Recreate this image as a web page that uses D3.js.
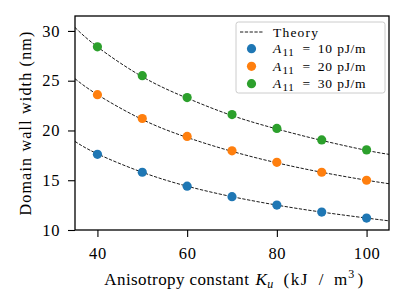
<!DOCTYPE html>
<html>
<head>
<meta charset="utf-8">
<script src="https://cdn.jsdelivr.net/npm/d3@7"></script>
<style>
  html, body { margin: 0; padding: 0; background: #fff; }
  text { font-family: "Liberation Serif", "DejaVu Serif", serif; fill: #000; }
</style>
</head>
<body>
<div id="chart"></div>
<script>
// anisotropy constants where simulations were run (kJ/m^3)
const kValues = [40, 50, 60, 70, 80, 90, 100];
// simulated domain wall widths (nm)
const width10 = [17.6, 15.8, 14.4, 13.35, 12.5, 11.8, 11.2];
const width20 = [23.6, 21.2, 19.4, 17.95, 16.8, 15.8, 15.0];
const width30 = [28.4, 25.5, 23.3, 21.6, 20.2, 19.05, 18.05];

// theory curve
const theoryK = [35, 40, 50, 60, 70, 80, 90, 100, 105];
const theory10 = [18.9, 17.65, 15.8, 14.4, 13.35, 12.5, 11.8, 11.2, 10.92];
const theory20 = [25.2, 23.6, 21.1, 19.3, 17.9, 16.75, 15.8, 15.0, 14.65];
const theory30 = [30.35, 28.4, 25.4, 23.25, 21.5, 20.15, 19.0, 18.0, 17.6];

const xTicks = [40, 60, 80, 100];
const yTicks = [10, 15, 20, 25, 30];

const seriesLabels = ["10", "20", "30"];
const colors = ["#1f77b4", "#ff7f0e", "#2ca02c"];

const W = 407, H = 305;
const margin = { top: 16, right: 18, bottom: 75, left: 75 };

const svg = d3.select("#chart").append("svg")
    .attr("width", W)
    .attr("height", H);

const x = d3.scaleLinear().domain([35, 105]).range([margin.left, W - margin.right]);
const y = d3.scaleLinear().domain([10, 31.5]).range([H - margin.bottom, margin.top]);

// theory lines
const line = d3.line()
    .x(d => x(d[0]))
    .y(d => y(d[1]))
    .curve(d3.curveNatural);

const plot = svg.append("g");
[theory10, theory20, theory30].forEach(vals => {
    plot.append("path")
        .datum(theoryK.map((k, i) => [k, vals[i]]))
        .attr("d", line)
        .attr("fill", "none")
        .attr("stroke", "#000")
        .attr("stroke-width", 0.9)
        .attr("stroke-dasharray", "3.3,1.5");
});

// simulation points
[width10, width20, width30].forEach((vals, si) => {
    plot.append("g")
        .selectAll("circle")
        .data(kValues.map((k, i) => [k, vals[i]]))
        .join("circle")
        .attr("cx", d => x(d[0]))
        .attr("cy", d => y(d[1]))
        .attr("r", 4.6)
        .attr("fill", colors[si]);
});

// axes
svg.append("g")
    .attr("transform", `translate(0,${H - margin.bottom})`)
    .call(d3.axisBottom(x).tickValues(xTicks).tickSize(7).tickPadding(10.5))
    .call(g => g.select(".domain").remove())
    .call(g => g.selectAll("line").attr("stroke-width", 1.1))
    .call(g => g.selectAll("text").attr("font-size", 16.5).attr("letter-spacing", 0.6).attr("font-family", null));

svg.append("g")
    .attr("transform", `translate(${margin.left},0)`)
    .call(d3.axisLeft(y).tickValues(yTicks).tickSize(7).tickPadding(8))
    .call(g => g.select(".domain").remove())
    .call(g => g.selectAll("line").attr("stroke-width", 1.1))
    .call(g => g.selectAll("text").attr("font-size", 16.5).attr("letter-spacing", 0.6).attr("font-family", null));

// frame
svg.append("rect")
    .attr("x", margin.left)
    .attr("y", margin.top)
    .attr("width", W - margin.right - margin.left)
    .attr("height", H - margin.bottom - margin.top)
    .attr("fill", "none")
    .attr("stroke", "#000")
    .attr("stroke-width", 1.3);

// x axis label, pieces spaced like the LaTeX original
const xl = svg.append("text")
    .attr("x", 234)
    .attr("y", 284.5)
    .attr("text-anchor", "middle")
    .attr("font-size", 17)
    .attr("letter-spacing", 0.4);
xl.append("tspan").text("Anisotropy constant");
xl.append("tspan").attr("dx", 6).attr("font-style", "italic").text("K");
xl.append("tspan").attr("font-style", "italic").attr("font-size", 12).attr("dy", 3).text("u");
xl.append("tspan").attr("dx", 10).attr("dy", -3).attr("letter-spacing", 1.5).text("(kJ");
xl.append("tspan").attr("dx", 10).text("/");
xl.append("tspan").attr("dx", 10).attr("letter-spacing", 1).text("m");
xl.append("tspan").attr("font-size", 12).attr("dy", -7).text("3");
xl.append("tspan").attr("dx", 3).attr("dy", 7).text(")");

svg.append("text")
    .attr("transform", `translate(31,${(margin.top + H - margin.bottom) / 2}) rotate(-90)`)
    .attr("text-anchor", "middle")
    .attr("font-size", 16)
    .attr("letter-spacing", 1.2)
    .text("Domain wall width (nm)");

// legend
const legend = svg.append("g").attr("transform", "translate(236,22)");
legend.append("rect")
    .attr("width", 149)
    .attr("height", 71)
    .attr("rx", 2.5)
    .attr("fill", "#fff")
    .attr("fill-opacity", 0.8)
    .attr("stroke", "#cccccc")
    .attr("stroke-width", 1);

const rowY = [10, 26.7, 44.3, 61.7];
legend.append("line")
    .attr("x1", 4).attr("x2", 26.5)
    .attr("y1", rowY[0]).attr("y2", rowY[0])
    .attr("stroke", "#000")
    .attr("stroke-width", 0.9)
    .attr("stroke-dasharray", "3.3,1.5");
legend.append("text")
    .attr("x", 37).attr("y", rowY[0] + 4.5)
    .attr("font-size", 13.5)
    .attr("letter-spacing", 1.2)
    .text("Theory");

seriesLabels.forEach((lab, i) => {
    const cy = rowY[i + 1];
    legend.append("circle")
        .attr("cx", 15.5).attr("cy", cy)
        .attr("r", 4.6)
        .attr("fill", colors[i]);
    const t = legend.append("text")
        .attr("x", 37).attr("y", cy + 4.5)
        .attr("font-size", 13.5)
        .attr("letter-spacing", 0.7);
    t.append("tspan").attr("font-style", "italic").text("A");
    t.append("tspan").attr("font-size", 11).attr("dx", 0.5).attr("dy", 3).text("11");
    t.append("tspan").attr("dx", 8).attr("dy", -3).text("=");
    t.append("tspan").attr("dx", 7).text(lab);
    t.append("tspan").attr("dx", 4.5).text("pJ/m");
});
</script>
</body>
</html>
